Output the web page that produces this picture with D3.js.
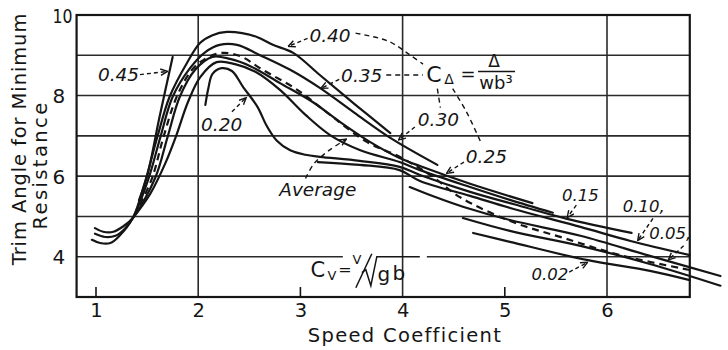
<!DOCTYPE html>
<html>
<head>
<meta charset="utf-8">
<script src="https://cdn.jsdelivr.net/npm/d3@7"></script>
<style>
  html, body { margin: 0; padding: 0; background: #fff; }
  svg { display: block; font-family: "DejaVu Sans", sans-serif; }
</style>
</head>
<body>
<svg id="chart" width="728" height="350"></svg>
<script>
// ---- data: trim angle (deg) for minimum resistance vs speed coefficient C_V ----
const xTickValues = [1, 2, 3, 4, 5, 6];
const yTickValues = [4, 6, 8, 10];
const xGridValues = [2, 4, 6];
const xMinorTicks = [1, 3, 5];
const yGridValues = [4, 5, 6, 7, 8, 9];

// one curve per load coefficient C_Δ, points are [C_V, trim]
const curve045 = [[1.42,5.40],[1.50,6.00],[1.62,7.45],[1.75,8.96]];
const curve040 = [[0.96,4.42],[1.04,4.34],[1.14,4.34],[1.23,4.52],[1.36,4.96],[1.48,5.86],[1.60,6.97],
  [1.72,7.97],[1.89,8.81],[2.02,9.31],[2.14,9.50],[2.28,9.58],[2.43,9.55],[2.58,9.45],[2.73,9.26],
  [2.93,9.06],[3.19,8.51],[3.53,7.79],[3.88,7.07]];
const curve035 = [[0.99,4.57],[1.09,4.49],[1.19,4.52],[1.28,4.69],[1.36,4.96],[1.51,5.91],[1.63,6.97],
  [1.75,7.97],[1.92,8.68],[2.07,9.08],[2.21,9.26],[2.38,9.26],[2.60,9.01],[2.90,8.64],[3.19,8.19],
  [3.53,7.57],[3.88,6.95],[4.34,6.28]];
const curve030 = [[0.99,4.71],[1.07,4.62],[1.17,4.62],[1.27,4.76],[1.36,4.96],[1.58,5.96],[1.70,6.97],
  [1.82,7.97],[1.97,8.64],[2.14,8.96],[2.31,8.91],[2.51,8.73],[2.80,8.31],[3.12,7.84],[3.39,7.34],
  [3.68,6.85],[3.97,6.45],[4.17,6.25],[4.66,5.81],[5.27,5.33]];
const curve025 = [[1.34,4.89],[1.53,5.56],[1.68,6.33],[1.78,6.97],[1.90,7.84],[2.02,8.46],[2.18,8.83],
  [2.36,8.78],[2.56,8.59],[2.80,8.14],[3.05,7.52],[3.29,7.02],[3.58,6.65],[3.97,6.35],[4.17,6.15],
  [4.66,5.73],[5.05,5.41],[5.47,5.09]];
const curve020 = [[2.07,7.77],[2.10,8.19],[2.14,8.54],[2.23,8.68],[2.33,8.61],[2.44,8.21],[2.58,7.72],
  [2.67,7.25],[2.77,6.88],[2.90,6.64],[3.05,6.53],[3.19,6.48],[3.58,6.38],[3.97,6.23],[4.17,6.03],
  [4.66,5.61],[5.15,5.26],[5.61,4.94],[6.24,4.59]];
const curve015 = [[4.59,4.96],[5.05,4.64],[5.74,4.27],[6.42,3.82],[7.11,3.28]];
const curve010 = [[3.17,6.35],[3.58,6.28],[3.97,6.15],[4.17,5.88],[4.66,5.51],[5.15,5.14],[5.74,4.74],
  [6.23,4.39],[6.81,4.04]];
const curve005 = [[4.07,5.73],[4.32,5.48],[4.59,5.24],[5.05,4.91],[5.74,4.52],[6.42,4.02],[7.11,3.52]];
const curve002 = [[4.69,4.59],[5.05,4.37],[5.80,3.92],[6.42,3.65],[6.81,3.42]];
const curveAverage = [[1.43,5.29],[1.55,5.96],[1.66,6.97],[1.79,7.97],[1.94,8.64],[2.08,8.93],[2.23,9.06],
  [2.41,8.98],[2.63,8.64],[2.97,8.14],[3.29,7.52],[3.65,6.85],[3.97,6.48],[4.27,6.03],[4.56,5.48],
  [5.08,4.86],[5.57,4.47],[6.13,4.04],[6.81,3.67]];

const solidCurves = [curve045, curve040, curve035, curve030, curve025, curve020,
                     curve015, curve010, curve005, curve002];

// curve labels with their pointer arrows (data coordinates)
const curveLabels = [
  { text: "0.45",  at: [1.22, 8.52], arrow: [[1.43, 8.52], [1.70, 8.60]] },
  { text: "0.40",  at: [3.29, 9.50], arrow: [[3.07, 9.42], [2.88, 9.22]] },
  { text: "0.35",  at: [3.60, 8.50], arrow: [[3.38, 8.40], [3.20, 8.18]] },
  { text: "0.30",  at: [4.35, 7.40], arrow: [[4.12, 7.22], [3.96, 6.90]] },
  { text: "0.25",  at: [4.82, 6.48], arrow: [[4.60, 6.35], [4.43, 6.07]] },
  { text: "0.20",  at: [2.23, 7.27], arrow: [[2.33, 7.60], [2.47, 7.95]] },
  { text: "0.15",  at: [5.74, 5.53], arrow: [[5.70, 5.28], [5.61, 4.97]], small: true },
  { text: "0.10,", at: [6.36, 5.24], arrow: [[6.45, 4.95], [6.30, 4.40]], small: true },
  { text: "0.05,", at: [6.62, 4.58], arrow: [[6.75, 4.27], [6.60, 3.92]], small: true },
  { text: "0.02",  at: [5.44, 3.55], arrow: [[5.63, 3.62], [5.81, 3.86]], small: true }
];
// dashed leaders tying labels to the C_Δ definition
const leaders = [
  [[3.54, 9.55], [3.86, 9.35], [4.06, 9.03], [4.20, 8.78]],
  [[3.84, 8.51], [4.20, 8.51]],
  [[4.34, 8.17], [4.37, 7.70]],
  [[4.49, 8.17], [4.62, 7.62], [4.76, 6.87]]
];
const averagePointer = [[3.05, 5.94], [3.13, 6.30], [3.27, 6.62], [3.45, 6.92]];

// ---- drawing ----
const svg = d3.select("#chart");
const ink = "#151515";

const x = d3.scaleLinear().domain([1, 6]).range([96, 607]);
const y = d3.scaleLinear().domain([3, 10]).range([297, 15]);
const xLo = 0.81, xHi = 6.81;

svg.append("rect").attr("width", 728).attr("height", 350).attr("fill", "#fff");

const defs = svg.append("defs");
defs.append("marker").attr("id", "head")
  .attr("viewBox", "0 0 8 8").attr("refX", 7.5).attr("refY", 4)
  .attr("markerWidth", 8).attr("markerHeight", 8)
  .attr("markerUnits", "userSpaceOnUse").attr("orient", "auto")
  .append("path").attr("d", "M0.5,0.8 L7.5,4 L0.5,7.2")
  .attr("fill", "none").attr("stroke", ink).attr("stroke-width", 1.4);

const grid = svg.append("g").attr("stroke", "#2a2a2a").attr("stroke-width", 1.6);
grid.selectAll("line.h").data(yGridValues).join("line").attr("class", "h")
  .attr("x1", x(xLo)).attr("x2", x(xHi)).attr("y1", d => y(d)).attr("y2", d => y(d));

// gap in the trim = 4 gridline around the C_V definition
const cvAnchor = [x(3.2), y(4)];
svg.append("rect").attr("x", cvAnchor[0] + 22).attr("y", cvAnchor[1] - 6)
  .attr("width", 84).attr("height", 11).attr("fill", "#fff");

svg.append("g").attr("stroke", "#2a2a2a").attr("stroke-width", 1.6)
  .selectAll("line").data(xGridValues).join("line")
  .attr("x1", d => x(d)).attr("x2", d => x(d)).attr("y1", y(10)).attr("y2", y(3));

svg.append("g").attr("stroke", ink).attr("stroke-width", 1.6)
  .selectAll("line").data(xMinorTicks).join("line")
  .attr("x1", d => x(d)).attr("x2", d => x(d)).attr("y1", y(3)).attr("y2", y(3) - 10);

// frame
svg.append("rect").attr("x", x(xLo)).attr("y", y(10))
  .attr("width", x(xHi) - x(xLo)).attr("height", y(3) - y(10))
  .attr("fill", "none").attr("stroke", ink).attr("stroke-width", 2.2);

// axes tick labels
const xAxis = d3.axisBottom(x).tickValues(xTickValues).tickSize(0).tickPadding(0).tickFormat(d3.format("d"));
svg.append("g").attr("transform", `translate(0,${y(3)})`).call(xAxis)
  .call(g => g.select(".domain").remove())
  .selectAll("text").attr("dy", null).attr("y", 20).attr("font-size", 19.5)
  .attr("font-family", "DejaVu Sans, sans-serif").attr("fill", ink);

const yAxis = d3.axisLeft(y).tickValues(yTickValues).tickSize(0).tickPadding(0).tickFormat(d3.format("d"));
svg.append("g").attr("transform", `translate(${x(xLo)},0)`).call(yAxis)
  .call(g => g.select(".domain").remove())
  .selectAll("text").attr("x", -24).attr("text-anchor", "start").attr("dy", "0.36em")
  .attr("font-size", 20).attr("font-family", "DejaVu Sans, sans-serif").attr("fill", ink)
  .attr("textLength", d => d >= 10 ? 20 : null).attr("lengthAdjust", "spacingAndGlyphs");

// axis titles
svg.append("text").attr("transform", "translate(26,139) rotate(-90)")
  .attr("text-anchor", "middle").attr("font-size", 19.5).attr("letter-spacing", 0.9)
  .attr("fill", ink).text("Trim Angle for Minimum");
svg.append("text").attr("transform", "translate(47,165) rotate(-90)")
  .attr("text-anchor", "middle").attr("font-size", 19.5).attr("letter-spacing", 2.4)
  .attr("fill", ink).text("Resistance");
svg.append("text").attr("x", 405).attr("y", 342).attr("text-anchor", "middle")
  .attr("font-size", 19.5).attr("letter-spacing", 1.3).attr("fill", ink).text("Speed Coefficient");

// curves
const line = d3.line().x(d => x(d[0])).y(d => y(d[1])).curve(d3.curveCatmullRom.alpha(0.5));
svg.append("g").attr("fill", "none").attr("stroke", ink).attr("stroke-width", 2.2)
  .attr("stroke-linecap", "round")
  .selectAll("path").data(solidCurves).join("path").attr("d", line);
svg.append("path").datum(curveAverage).attr("d", line)
  .attr("fill", "none").attr("stroke", ink).attr("stroke-width", 2.2)
  .attr("stroke-dasharray", "7,5");

// labels and pointers
const lab = svg.append("g");
lab.selectAll("text").data(curveLabels).join("text")
  .attr("x", d => x(d.at[0])).attr("y", d => y(d.at[1]))
  .attr("text-anchor", "middle").attr("dominant-baseline", "central")
  .attr("font-style", "italic").attr("font-size", d => d.small ? 16.5 : 18.5)
  .attr("fill", ink).text(d => d.text);

const straight = d3.line().x(d => x(d[0])).y(d => y(d[1]));
const smooth = d3.line().x(d => x(d[0])).y(d => y(d[1])).curve(d3.curveCatmullRom.alpha(0.5));
lab.selectAll("path.arrow").data(curveLabels).join("path").attr("class", "arrow")
  .attr("d", d => straight(d.arrow)).attr("fill", "none").attr("stroke", ink)
  .attr("stroke-width", 1.4).attr("stroke-dasharray", "4,3").attr("marker-end", "url(#head)");
lab.selectAll("path.leader").data(leaders).join("path").attr("class", "leader")
  .attr("d", smooth).attr("fill", "none").attr("stroke", ink)
  .attr("stroke-width", 1.4).attr("stroke-dasharray", "5,4");
lab.append("path").attr("d", smooth(averagePointer)).attr("fill", "none").attr("stroke", ink)
  .attr("stroke-width", 1.4).attr("stroke-dasharray", "5,4").attr("marker-end", "url(#head)");
lab.append("text").attr("x", x(3.17)).attr("y", y(5.66)).attr("text-anchor", "middle")
  .attr("dominant-baseline", "central").attr("font-style", "italic").attr("font-size", 18.5)
  .attr("fill", ink).text("Average");

// C_Δ = Δ / w b³
const cd = [x(4.2), y(8.5)];
const fm = svg.append("g").attr("fill", ink).attr("transform", `translate(${cd[0]},${cd[1]})`);
fm.append("text").attr("x", 11).attr("y", 7).attr("text-anchor", "middle").attr("font-size", 22).text("C");
fm.append("text").attr("x", 26).attr("y", 9).attr("text-anchor", "middle").attr("font-size", 14).text("Δ");
fm.append("text").attr("x", 45).attr("y", 5).attr("text-anchor", "middle").attr("font-size", 18).text("=");
fm.append("text").attr("x", 71).attr("y", -8).attr("text-anchor", "middle").attr("font-size", 17).text("Δ");
fm.append("line").attr("x1", 55).attr("x2", 92).attr("y1", -4).attr("y2", -4)
  .attr("stroke", ink).attr("stroke-width", 1.5);
fm.append("text").attr("x", 73).attr("y", 14).attr("text-anchor", "middle").attr("font-size", 18).text("wb³");

// C_V = V / √(g b)
const cv = svg.append("g").attr("fill", ink).attr("transform", `translate(${cvAnchor[0]},${cvAnchor[1]})`);
cv.append("text").attr("x", -3).attr("y", 20).attr("text-anchor", "middle").attr("font-size", 21).text("C");
cv.append("text").attr("x", 11).attr("y", 23).attr("text-anchor", "middle").attr("font-size", 13).text("V");
cv.append("text").attr("x", 24).attr("y", 18).attr("text-anchor", "middle").attr("font-size", 16).text("=");
cv.append("text").attr("x", 36).attr("y", 7).attr("text-anchor", "middle").attr("font-size", 13).text("V");
cv.append("line").attr("x1", 35).attr("y1", 31).attr("x2", 51).attr("y2", -3)
  .attr("stroke", ink).attr("stroke-width", 1.5);
cv.append("path").attr("d", "M41,16 L45,13 L50,29 L56,0 L99,0")
  .attr("fill", "none").attr("stroke", ink).attr("stroke-width", 1.5);
cv.append("text").attr("x", 63).attr("y", 24).attr("text-anchor", "middle").attr("font-size", 20).text("g");
cv.append("text").attr("x", 78).attr("y", 23).attr("text-anchor", "middle").attr("font-size", 20).text("b");
</script>
</body>
</html>
